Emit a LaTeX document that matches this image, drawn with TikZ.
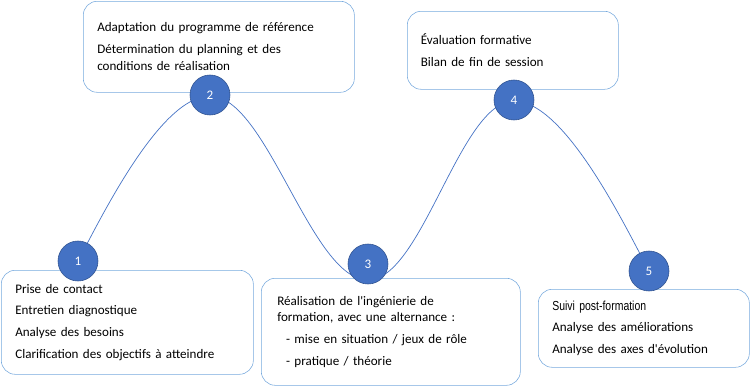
\documentclass[tikz,border=0pt]{standalone}
\usepackage{fontspec}
\setmainfont{Carlito}
\newfontfamily\narrowfont[FakeStretch=0.8]{Liberation Sans}
\usetikzlibrary{positioning}
\definecolor{bleuRond}{RGB}{68,114,196}
\definecolor{bleuBord}{RGB}{47,82,143}
\definecolor{bleuCadre}{RGB}{120,170,222}

\begin{document}
\begin{tikzpicture}[x=0.025cm,y=-0.025cm,font=\fontsize{9.3}{12}\selectfont,
  etape/.style={draw=bleuCadre,fill=white,rounded corners=0.35cm,anchor=north west,align=left,inner xsep=0.35cm,inner ysep=0pt},
  num/.style={circle,draw=bleuBord,fill=bleuRond,minimum size=1cm,inner sep=0pt,text=white,font=\fontsize{9.3}{10}\selectfont}]
\useasboundingbox (0,0) rectangle (754,388);
% courbe du parcours
\coordinate (p1) at (78,261);
\coordinate (p2) at (210,96);
\coordinate (p3) at (368,280);
\coordinate (p4) at (514,101);
\coordinate (p5) at (649,271);
\draw[bleuRond,line width=0.5pt,looseness=0.6] (p1) to[out=62,in=180] (p2)
  to[out=0,in=180] (p3) to[out=0,in=180] (p4) to[out=0,in=118] (p5);
% cadres des etapes
\node[etape,minimum width=6.3cm,minimum height=2.6cm,text width=5.6cm] (e1) at (1,270) {Prise de contact\\[3.5pt]Entretien diagnostique\\[3.5pt]Analyse des besoins\\[3.5pt]Clarification des objectifs à atteindre};
\node[etape,minimum width=6.775cm,minimum height=2.275cm,text width=6.075cm] (e2) at (83,1) {Adaptation du programme de référence\\[3.5pt]Détermination du planning et des\\conditions de réalisation};
\node[etape,minimum width=6.375cm,minimum height=2.675cm,text width=5.675cm,inner xsep=0.4cm] (e3) at (261,278) {Réalisation de l\textquotesingle ingénierie de\\formation, avec une alternance :\\[3.5pt]\hspace*{0.22cm}- mise en situation / jeux de rôle\\[3.5pt]\hspace*{0.22cm}- pratique / théorie};
\node[etape,minimum width=5.275cm,minimum height=1.95cm,text width=4.6cm,inner xsep=0.33cm] (e4) at (407,11) {Évaluation formative\\[3.5pt]Bilan de fin de session};
\node[etape,minimum width=5.275cm,minimum height=1.95cm,text width=4.575cm] (e5) at (538,289) {{\narrowfont Suivi post-formation}\\[3.5pt]Analyse des améliorations\\[3.5pt]Analyse des axes d\textquotesingle évolution};
% numeros
\node[num] (n1) at (78,261) {1};
\node[num] (n2) at (210,95) {2};
\node[num] (n3) at (368,264) {3};
\node[num] (n4) at (514,100) {4};
\node[num] (n5) at (649,271) {5};
\end{tikzpicture}
\end{document}
